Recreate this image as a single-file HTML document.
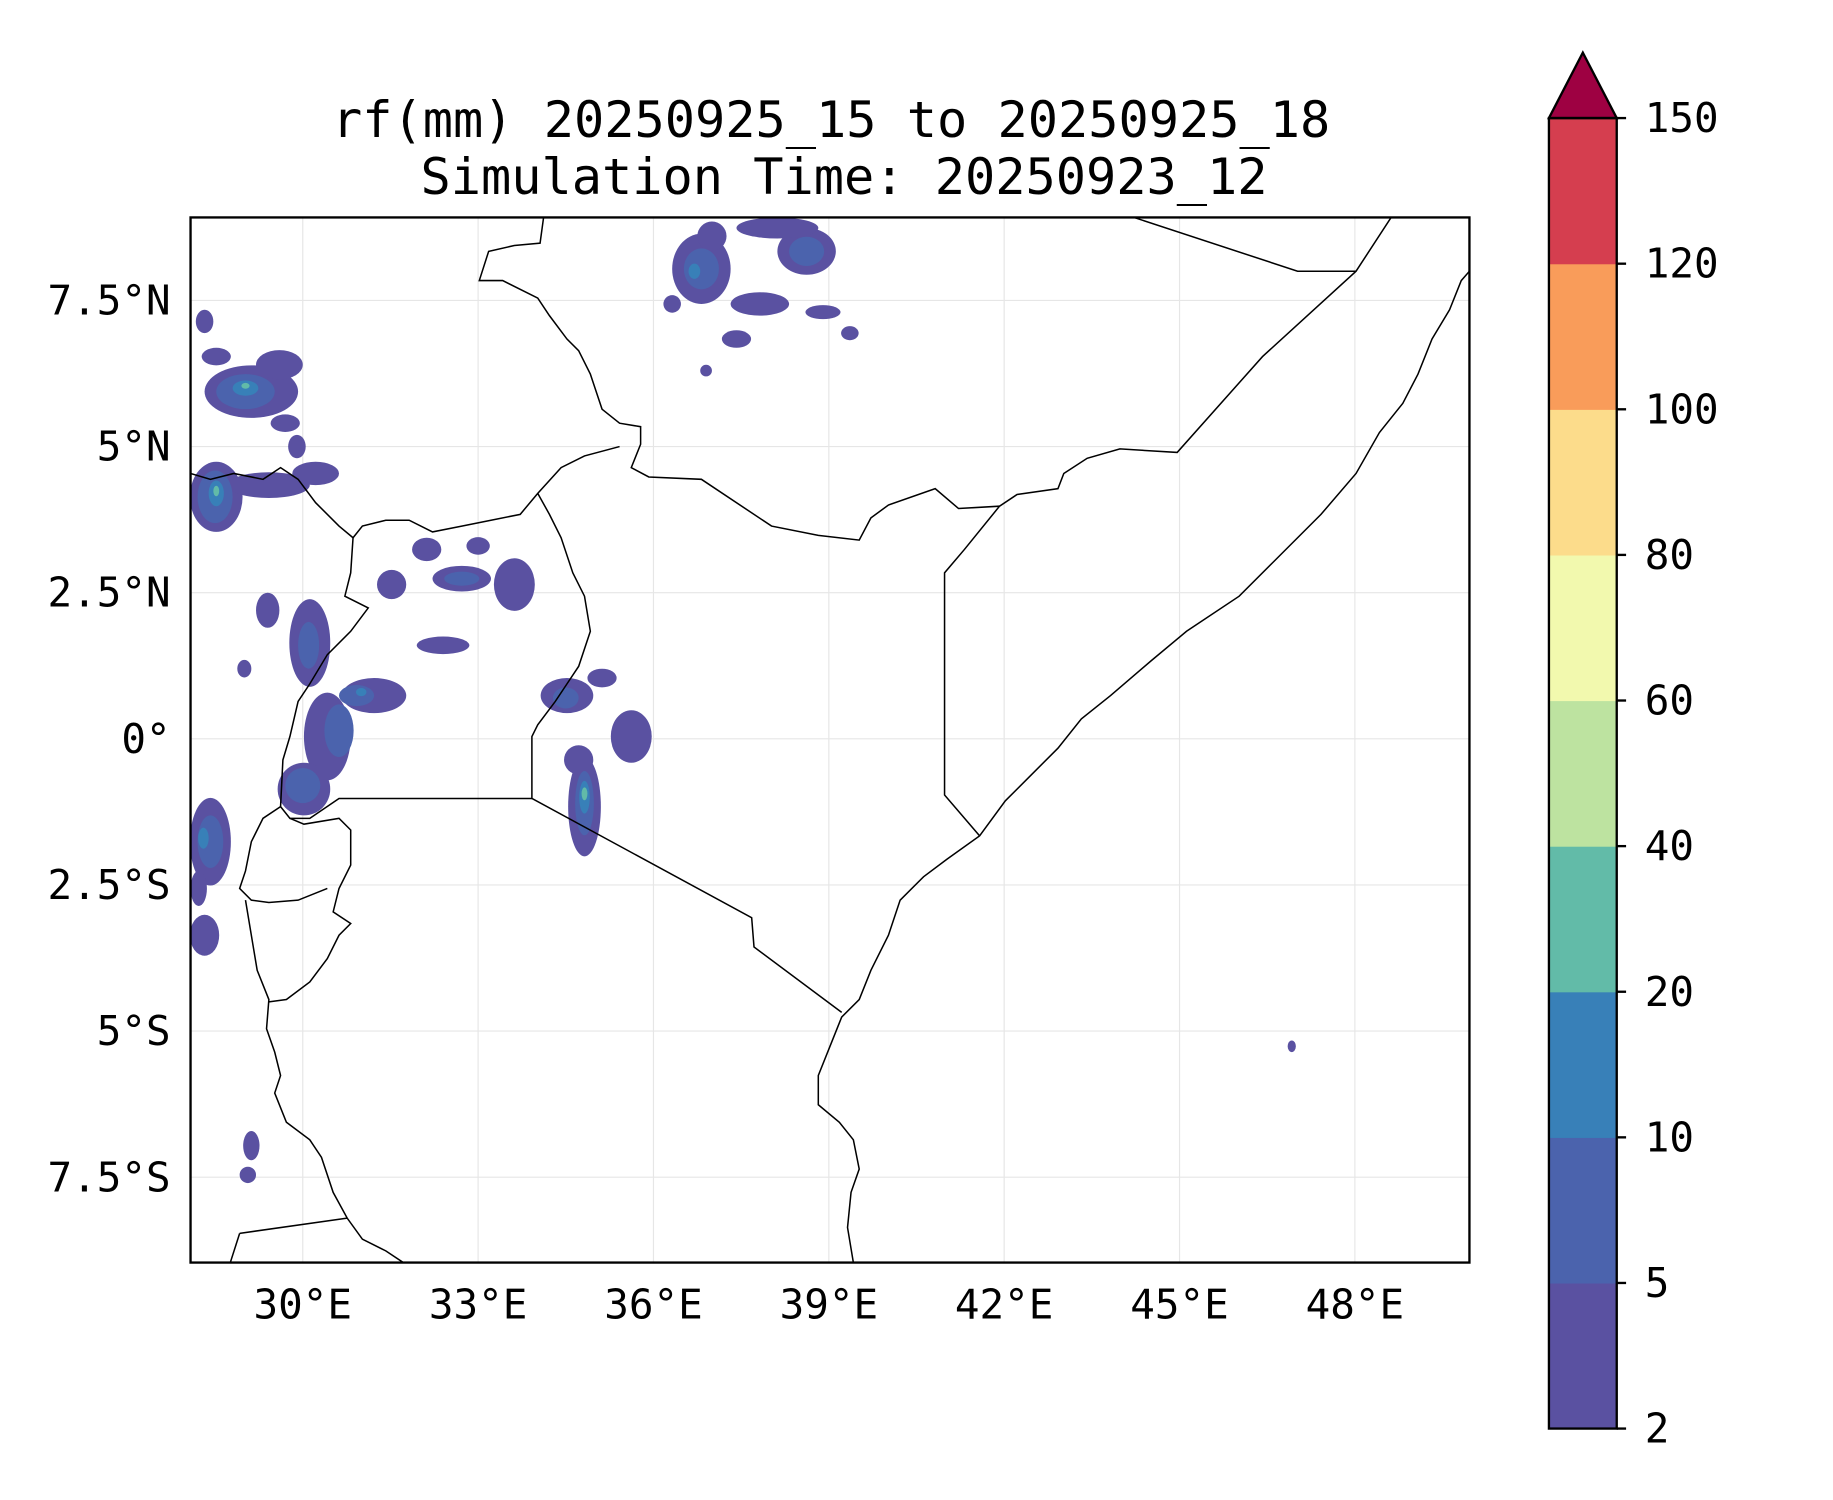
<!DOCTYPE html>
<html><head><meta charset="utf-8"><style>
html,body{margin:0;padding:0;background:#fff;width:1833px;height:1500px;overflow:hidden}
svg{display:block}
text{font-family:"DejaVu Sans Mono","Liberation Mono",monospace;fill:#000}
</style></head><body>
<svg id="fig" width="1833" height="1500" viewBox="0 0 1568 1283.1" preserveAspectRatio="none" xmlns="http://www.w3.org/2000/svg">
<text x="711" y="117" font-size="43" text-anchor="middle">rf(mm) 20250925_15 to 20250925_18</text>
<text x="722" y="166" font-size="43" text-anchor="middle">Simulation Time: 20250923_12</text>
<defs><clipPath id="mapclip"><rect x="163" y="186" width="1094" height="894"/></clipPath></defs>
<g id="grid"></g>
<g id="rain" clip-path="url(#mapclip)"></g>
<g id="geo" clip-path="url(#mapclip)" fill="none" stroke="#000" stroke-width="1.3"></g>
<rect x="163" y="186" width="1094" height="894" fill="none" stroke="#000" stroke-width="2"/>
<g id="xticks"></g>
<g id="yticks"></g>
<g id="cbar"></g>
</svg>
<script>
const lonTicks=[30,33,36,39,42,45,48];
const latTicks=[7.5,5,2.5,0,-2.5,-5,-7.5];
const latLabels=["7.5°N","5°N","2.5°N","0°","2.5°S","5°S","7.5°S"];
const levels=[2,5,10,20,40,60,80,100,120,150];
const levelColors=["#5a51a1","#4b63ad","#3880b8","#62bba8","#bde3a0","#f2f9ae","#fcdc8b","#f99c5a","#d53e4f"];
const extendColor="#9e0142";
// rain blobs: [lon, lat, rxDeg, ryDeg, levelIndex]
const rainBlobs=[
[36.82,8.04,0.5,0.6,0],[38.62,8.34,0.5,0.4,0],[37.82,7.44,0.5,0.2,0],[37.42,6.84,0.25,0.15,0],[39.36,6.94,0.15,0.12,0],[38.12,8.74,0.7,0.18,0],[36.32,7.44,0.15,0.15,0],[37.0,8.6,0.25,0.25,0],[38.9,7.3,0.3,0.12,0],[36.9,6.3,0.1,0.1,0],
[29.12,5.94,0.8,0.45,0],[28.52,6.54,0.25,0.15,0],[28.52,4.14,0.45,0.6,0],[29.42,4.34,0.7,0.22,0],[30.22,4.54,0.4,0.2,0],[28.32,7.14,0.15,0.2,0],[29.6,6.4,0.4,0.25,0],[29.7,5.4,0.25,0.15,0],[29.9,5.0,0.15,0.2,0],
[32.72,2.74,0.5,0.22,0],[31.52,2.64,0.25,0.25,0],[33.62,2.64,0.35,0.45,0],[32.12,3.24,0.25,0.2,0],[32.4,1.6,0.45,0.15,0],[33.0,3.3,0.2,0.15,0],
[30.12,1.64,0.35,0.75,0],[31.22,0.74,0.55,0.3,0],[30.42,0.04,0.4,0.75,0],[30.02,-0.86,0.45,0.45,0],[34.52,0.74,0.45,0.3,0],[35.12,1.04,0.25,0.16,0],[35.62,0.04,0.35,0.45,0],[29.4,2.2,0.2,0.3,0],[29.0,1.2,0.12,0.15,0],
[34.82,-1.16,0.28,0.85,0],[34.72,-0.36,0.25,0.25,0],[28.42,-1.76,0.35,0.75,0],[28.32,-3.36,0.25,0.35,0],[28.22,-2.56,0.14,0.3,0],[29.12,-6.96,0.14,0.25,0],[29.06,-7.46,0.14,0.14,0],[46.92,-5.26,0.07,0.1,0],
[36.82,8.04,0.3,0.35,1],[38.62,8.34,0.3,0.25,1],[29.02,5.94,0.5,0.3,1],[28.5,4.14,0.3,0.45,1],[32.72,2.74,0.3,0.12,1],[30.92,0.74,0.3,0.18,1],[30.62,0.14,0.25,0.45,1],[30.0,-0.8,0.3,0.3,1],[34.82,-1.1,0.16,0.55,1],[28.42,-1.76,0.22,0.45,1],[30.1,1.6,0.18,0.4,1],[34.5,0.7,0.22,0.18,1],
[36.7,8.0,0.1,0.13,2],[29.02,6.0,0.22,0.13,2],[28.52,4.2,0.13,0.22,2],[34.82,-1.0,0.09,0.28,2],[28.3,-1.7,0.09,0.18,2],[31.0,0.8,0.09,0.07,2],
[29.02,6.04,0.07,0.05,3],[28.52,4.24,0.05,0.09,3],[34.82,-0.94,0.05,0.11,3]];
const coast=[[49.96,8.0],[49.82,7.84],[49.62,7.34],[49.32,6.84],[49.08,6.24],[48.82,5.74],[48.42,5.24],[48.02,4.54],[47.42,3.84],[46.62,3.04],[46.02,2.44],[45.12,1.84],[44.52,1.34],[43.82,0.74],[43.32,0.34],[42.92,-0.16],[42.42,-0.66],[42.02,-1.06],[41.58,-1.66],[41.02,-2.06],[40.62,-2.36],[40.22,-2.76],[40.02,-3.36],[39.72,-3.96],[39.52,-4.46],[39.22,-4.76],[39.06,-5.16],[38.82,-5.76],[38.82,-6.26],[39.18,-6.56],[39.42,-6.86],[39.52,-7.36],[39.38,-7.76],[39.32,-8.36],[39.42,-8.96]];
const px=[
[[970,186],[1110,232],[1160,232]],
[[1190,186],[1160,232],[1080,305],[1007,387],[958,384],[930,392],[910,405],[905,418],[870,423],[855,433],[825,470],[808,490],[808,680],[838,715]],
[[855,433],[820,435],[800,418],[760,432],[745,443],[735,462],[700,458],[660,450],[600,410],[555,408],[540,400],[548,380],[548,365],[530,362],[515,350],[505,320],[495,300],[485,290],[470,270],[460,255],[430,240],[410,240],[418,215],[440,210],[462,208],[465,186]],
[[530,382],[500,390],[480,400],[460,422],[445,440],[420,445],[395,450],[370,455],[350,445],[330,445],[310,450],[302,460],[290,450],[270,430],[255,410],[240,400],[225,410],[200,405],[180,410],[163,405]],
[[460,422],[470,440],[480,460],[490,490],[500,510],[505,540],[495,570],[485,585],[475,600],[460,620],[455,630],[455,683],[643,785],[645,810],[720,866]],
[[302,460],[300,490],[295,510],[315,520],[300,540],[280,560],[265,585],[255,600],[248,630],[242,650],[240,690],[248,700],[265,700],[290,683],[455,683]],
[[248,700],[260,705],[290,700],[300,710],[300,740],[290,760],[285,780],[300,790],[290,800],[280,820],[265,840],[245,855],[230,857]],
[[240,690],[225,700],[215,720],[210,745],[205,760],[215,770],[230,772],[255,770],[280,760]],
[[210,770],[215,800],[220,830],[230,855],[228,880],[235,900],[240,920],[235,935],[245,960],[265,975],[275,990],[285,1020],[297,1042],[310,1060],[330,1070],[345,1080]],
[[205,1055],[297,1042]],[[205,1055],[197,1080]]];
const borders=px.map(l=>l.map(p=>[30+(p[0]-259)/50,(632-p[1])/50]));
const NS="http://www.w3.org/2000/svg";
const X=lon=>259+(lon-30)*50, Y=lat=>632-lat*50;
function mk(tag,attrs,parent){const e=document.createElementNS(NS,tag);for(const k in attrs)e.setAttribute(k,attrs[k]);parent.appendChild(e);return e;}
const grid=document.getElementById('grid');
lonTicks.forEach(l=>{const e=mk('line',{x1:X(l),x2:X(l),y1:186,y2:1080,stroke:'#e6e6e6','stroke-width':1},grid);

});
latTicks.forEach(l=>{const e=mk('line',{x1:163,x2:1257,y1:Y(l),y2:Y(l),stroke:'#e6e6e6','stroke-width':1},grid);

});
const rain=document.getElementById('rain');
rainBlobs.forEach(b=>{const e=mk('ellipse',{cx:X(b[0]),cy:Y(b[1]),rx:b[2]*50,ry:b[3]*50,fill:levelColors[b[4]]},rain);

});
const geo=document.getElementById('geo');
const toPts=l=>l.map(p=>X(p[0]).toFixed(1)+','+Y(p[1]).toFixed(1)).join(' ');
const c=mk('polyline',{points:toPts(coast)},geo);


borders.forEach(b=>{const e=mk('polyline',{points:toPts(b)},geo);

});
const xt=document.getElementById('xticks');
lonTicks.forEach(l=>{const e=mk('text',{x:X(l),y:1128,'font-size':35,'text-anchor':'middle'},xt);e.textContent=l+'°E';

});
const yt=document.getElementById('yticks');
latTicks.forEach((l,i)=>{const e=mk('text',{x:146,y:Y(l)+12,'font-size':35,'text-anchor':'end'},yt);e.textContent=latLabels[i];

});
const cb=document.getElementById('cbar');
const cx0=1325,cw=58,cTop=101,cBot=1222,step=(cBot-cTop)/(levels.length-1);
const CY=i=>cBot-i*step;
levelColors.forEach((col,i)=>{const e=mk('rect',{x:cx0,y:CY(i+1),width:cw,height:step+0.5,fill:col},cb);

});
const tri=mk('polygon',{points:`${cx0},${cTop} ${cx0+cw/2},45 ${cx0+cw},${cTop}`,fill:extendColor,stroke:'#000','stroke-width':2},cb);


const fr=mk('rect',{x:cx0,y:cTop,width:cw,height:cBot-cTop,fill:'none',stroke:'#000','stroke-width':2},cb);


levels.forEach((v,i)=>{const t=mk('line',{x1:cx0+cw,x2:cx0+cw+8,y1:CY(i),y2:CY(i),stroke:'#000','stroke-width':2},cb);


const e=mk('text',{x:1407,y:CY(i)+12,'font-size':35},cb);e.textContent=v;

});
</script>
</body></html>
